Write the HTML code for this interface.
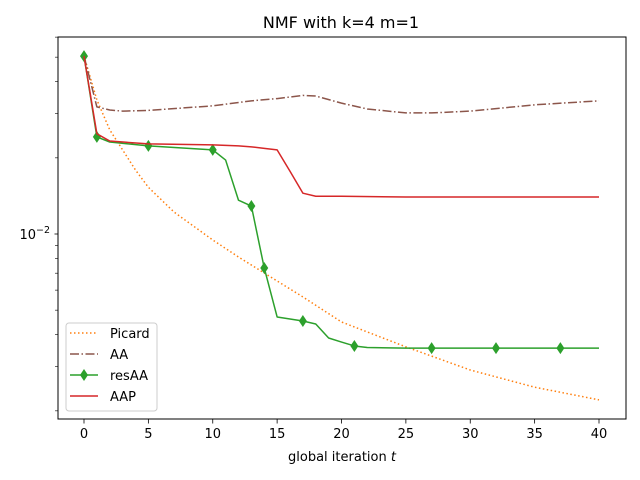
<!DOCTYPE html>
<html><head><meta charset="utf-8"><style>
body{margin:0;background:#fff}
svg{display:block;font-family:"DejaVu Sans","Liberation Sans",sans-serif}
</style></head><body>
<svg id="chart" width="640" height="480" xmlns="http://www.w3.org/2000/svg">
<rect width="640" height="480" fill="#fff"/>
<text x="341" y="28" font-size="16" text-anchor="middle">NMF with k=4 m=1</text>
<g id="series"></g>
<rect x="58" y="37" width="568" height="382" fill="none" stroke="#000" stroke-width="1"/>
<g id="ticks"></g>
<text x="342" y="461" font-size="13" text-anchor="middle">global iteration <tspan font-style="italic">t</tspan></text>
<g>
<rect x="66" y="323" width="91" height="88" rx="3" fill="#fff" fill-opacity="0.8" stroke="#ccc"/>
<g><line x1="70" y1="333" x2="98" y2="333" stroke="#ff7f0e" stroke-width="1.5" stroke-dasharray="1.5,2.5"/><text x="110" y="338" font-size="13">Picard</text></g>
<g><line x1="70" y1="354" x2="98" y2="354" stroke="#8c564b" stroke-width="1.5" stroke-dasharray="9,2.5,1.5,2.5"/><text x="110" y="359" font-size="13">AA</text></g>
<g><line x1="70" y1="375" x2="98" y2="375" stroke="#2ca02c" stroke-width="1.5"/><path d="M84,369 L88,375 L84,381 L80,375Z" fill="#2ca02c"/><text x="110" y="380" font-size="13">resAA</text></g>
<g><line x1="70" y1="396" x2="98" y2="396" stroke="#d62728" stroke-width="1.5"/><text x="110" y="401" font-size="13">AAP</text></g>
</g>
</svg>
<script>
const xTicks=[0,5,10,15,20,25,30,35,40];
const picardT=[0,1,2,3,4,5,7,10,12,14,17,20,25,30,35,40];
const picardV=[0.0505,0.0339,0.0258,0.0215,0.0179,0.0153,0.0122,0.00947,0.00811,0.00701,0.00564,0.00449,0.00358,0.00290,0.00248,0.00221];
const aaT=[0,1,2,3,5,10,13,15,17,18,20,22,25,27,30,35,40];
const aaV=[0.0505,0.0318,0.0309,0.0306,0.0308,0.0321,0.0336,0.0343,0.0353,0.0351,0.0329,0.0312,0.0301,0.0301,0.0306,0.0324,0.0336];
const resT=[0,1,2,5,10,11,12,13,14,15,17,18,19,20,21,22,25,27,30,32,35,37,40];
const resV=[0.0505,0.0242,0.0231,0.0223,0.0215,0.0196,0.0136,0.0129,0.00734,0.00470,0.00453,0.00441,0.00388,0.00374,0.00361,0.00356,0.00354,0.00354,0.00354,0.00354,0.00354,0.00354,0.00354];
const resMarkT=[0,1,5,10,13,14,17,21,27,32,37];
const aapT=[0,1,2,5,10,12,13,14,15,16,17,18,20,25,40];
const aapV=[0.0505,0.0249,0.0233,0.0227,0.0225,0.0223,0.0221,0.0218,0.0215,0.0177,0.0145,0.0141,0.0141,0.0140,0.0140];
const NS='http://www.w3.org/2000/svg';
function X(t){return 84+t*12.875;}
function Y(v){return 234-(Math.log10(v)+2)*253;}
function mk(tag,a,p){const e=document.createElementNS(NS,tag);for(const k in a)e.setAttribute(k,a[k]);p.appendChild(e);return e;}
const ticks=document.getElementById('ticks');
xTicks.forEach(t=>{
 const l=mk('line',{x1:X(t),x2:X(t),y1:419,y2:423.5,stroke:'#000','stroke-width':0.8},ticks);
 
 
 const tx=mk('text',{x:X(t),y:438,'font-size':13,'text-anchor':'middle'},ticks);
 tx.textContent=t;
 
 
});
[2,3,4,5,6,7,8,9].forEach(m=>{[0.001,0.01].forEach(d=>{
 const y=Y(m*d); if(y<37||y>419)return;
 const l=mk('line',{x1:55,x2:58,y1:y,y2:y,stroke:'#000','stroke-width':0.6},ticks);
 
 
});});
const mj=mk('line',{x1:54.5,x2:58,y1:Y(0.01),y2:Y(0.01),stroke:'#000','stroke-width':0.8},ticks);


const yl=mk('text',{x:50,y:Y(0.01)+5,'font-size':13,'text-anchor':'end'},ticks);
yl.innerHTML='10<tspan dy="-6" font-size="9.5">−2</tspan>';


const S=document.getElementById('series');
function line(T,V,color,dash,name){
 const p=mk('polyline',{points:T.map((t,i)=>X(t)+','+Y(V[i])).join(' '),fill:'none',stroke:color,'stroke-width':1.5,'stroke-dasharray':dash||'none','stroke-linejoin':'round'},S);
 
 
}
line(picardT,picardV,'#ff7f0e','1.5,2.5','picard-line');
line(aaT,aaV,'#8c564b','9,2.5,1.5,2.5','aa-line');
line(resT,resV,'#2ca02c','','resaa-line');
resMarkT.forEach(t=>{
 const v=resV[resT.indexOf(t)];const x=X(t),y=Y(v);
 const m=mk('path',{d:`M${x},${y-6} L${x+4},${y} L${x},${y+6} L${x-4},${y}Z`,fill:'#2ca02c'},S);
 
 
});
line(aapT,aapV,'#d62728','','aap-line');
</script>
</body></html>
